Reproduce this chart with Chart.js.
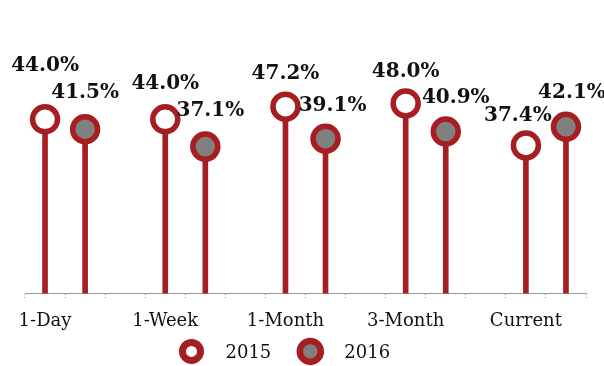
<!DOCTYPE html>
<html>
<head>
<meta charset="utf-8">
<script src="https://cdn.jsdelivr.net/npm/chart.js@4"></script>
<style>
  html, body { margin: 0; padding: 0; background: #ffffff; }
  #wrap { width: 604px; height: 366px; }
</style>
</head>
<body>
<div id="wrap"><canvas id="c" width="604" height="366"></canvas></div>
<script>
// Return periods and the two years being compared
const periods = ['1-Day', '1-Week', '1-Month', '3-Month', 'Current'];
const years = ['2015', '2016'];
const values2015 = [44.0, 44.0, 47.2, 48.0, 37.4];
const values2016 = [41.5, 37.1, 39.1, 40.9, 42.1];

// Styling
const RED = '#a61e22';
const GREY = '#808080';
const TEXT = '#111111';
const SERIF = "'DejaVu Serif', 'Liberation Serif', serif";

// Value-label nudges (dx, dy from the marker centre) so labels don't collide
const labelNudge2015 = [[0, -54], [0, -36], [0, -33], [0, -32], [-8, -30]];
const labelNudge2016 = [[0, -36], [5, -36], [7, -33], [10, -34], [6, -34]];

// Each period occupies three slots: 2015, 2016, spacer (no spacer after the last)
const slotLabels = [], slots2015 = [], slots2016 = [];
periods.forEach((p, i) => {
  slotLabels.push(p, '', '');
  slots2015.push(values2015[i], null, null);
  slots2016.push(null, values2016[i], null);
});
slotLabels.pop(); slots2015.pop(); slots2016.pop();

const stem = (data) => ({
  type: 'bar',
  data,
  backgroundColor: RED,
  borderWidth: 0,
  barThickness: 5,
  grouped: false,
  order: 2
});

const head = (label, data, fill, nudges) => ({
  type: 'line',
  label,
  data,
  showLine: false,
  pointStyle: 'circle',
  pointRadius: 12.5,
  pointHoverRadius: 12.5,
  pointBorderWidth: 5.5,
  pointHoverBorderWidth: 5.5,
  pointBackgroundColor: fill,
  pointBorderColor: RED,
  backgroundColor: fill,
  borderColor: RED,
  order: 1,
  nudges
});

// Value labels above each marker
const valueLabels = {
  id: 'valueLabels',
  afterDatasetsDraw(chart) {
    const ctx = chart.ctx;
    ctx.save();
    ctx.font = 'bold 20px ' + SERIF;
    ctx.fillStyle = TEXT;
    ctx.textAlign = 'center';
    ctx.textBaseline = 'middle';
    chart.data.datasets.forEach((ds, di) => {
      if (ds.type !== 'line') return;
      const meta = chart.getDatasetMeta(di);
      let k = 0;
      ds.data.forEach((v, idx) => {
        if (v === null) return;
        const pt = meta.data[idx];
        const [dx, dy] = ds.nudges[k++];
        ctx.fillText(v.toFixed(1) + '%', pt.x + dx, pt.y + dy);
      });
    });
    ctx.restore();
  }
};

// Legend row under the axis labels
const ringLegend = {
  id: 'ringLegend',
  afterDraw(chart) {
    const ctx = chart.ctx;
    const area = chart.chartArea;
    const items = [
      { text: years[0], fill: '#ffffff', r: 9, lw: 7 },
      { text: years[1], fill: GREY, r: 10.5, lw: 6.5 }
    ];
    ctx.save();
    ctx.font = '18px ' + SERIF;
    ctx.textBaseline = 'middle';
    ctx.textAlign = 'left';
    const y = area.bottom + 58;
    let x = (area.left + area.right) / 2 - 114;
    items.forEach((it) => {
      ctx.beginPath();
      ctx.arc(x, y, it.r, 0, Math.PI * 2);
      ctx.fillStyle = it.fill;
      ctx.fill();
      ctx.lineWidth = it.lw;
      ctx.strokeStyle = RED;
      ctx.stroke();
      ctx.fillStyle = TEXT;
      ctx.fillText(it.text, x + 34, y + 2);
      x += 34 + ctx.measureText(it.text).width + 39;
    });
    ctx.restore();
  }
};

new Chart(document.getElementById('c'), {
  type: 'bar',
  data: {
    labels: slotLabels,
    datasets: [
      stem(slots2015),
      stem(slots2016),
      head(years[0], slots2015, '#ffffff', labelNudge2015),
      head(years[1], slots2016, GREY, labelNudge2016)
    ]
  },
  options: {
    responsive: false,
    animation: false,
    layout: { padding: { top: 56, left: 25, right: 18, bottom: 22 } },
    plugins: {
      legend: { display: false },
      tooltip: { enabled: false }
    },
    scales: {
      x: {
        offset: true,
        grid: {
          display: true,
          offset: true,
          drawOnChartArea: false,
          drawTicks: true,
          tickLength: 5,
          tickColor: '#9a9a9a',
          tickWidth: 1,
          tickBorderDash: [1, 2]
        },
        border: { display: true, color: '#9a9a9a', width: 1, dash: [1, 2] },
        ticks: {
          autoSkip: false,
          maxRotation: 0,
          minRotation: 0,
          padding: 12,
          color: TEXT,
          font: { family: SERIF, size: 18 }
        }
      },
      y: {
        display: false,
        min: 0,
        max: 60
      }
    }
  },
  plugins: [valueLabels, ringLegend]
});
</script>
</body>
</html>
